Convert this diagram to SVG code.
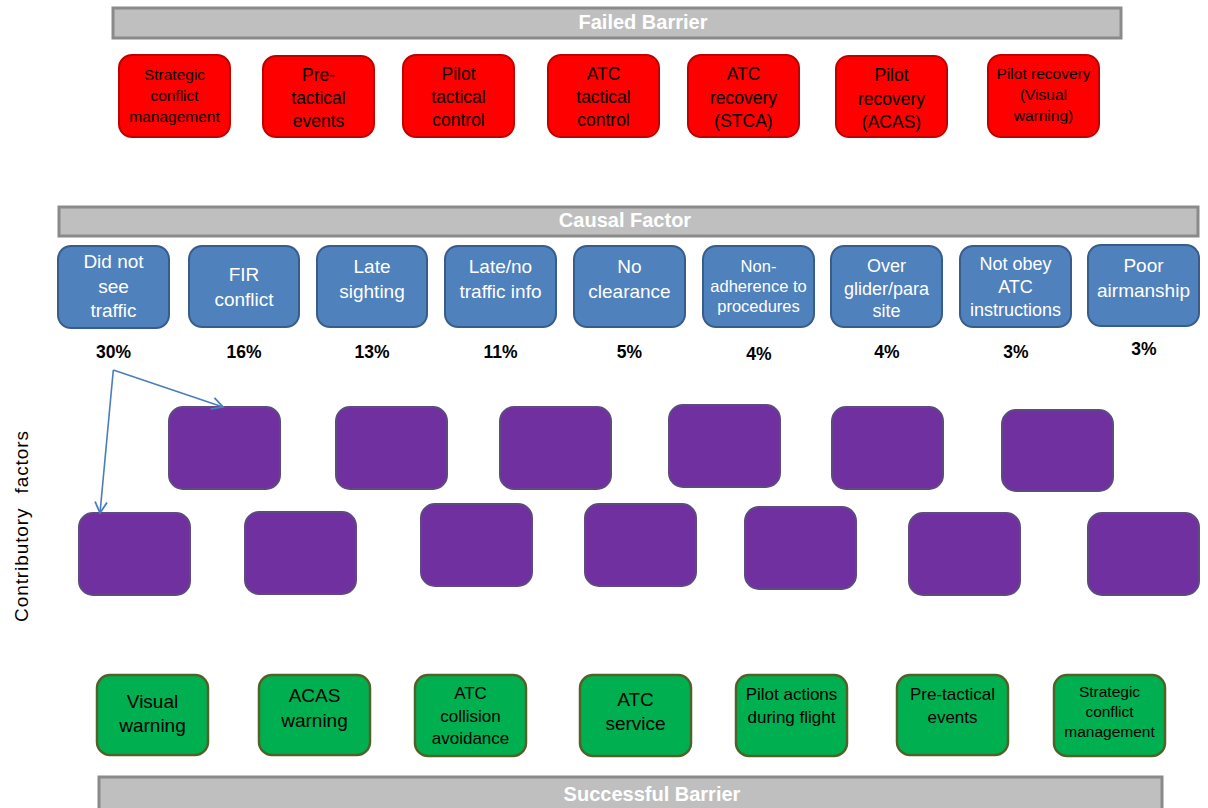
<svg xmlns="http://www.w3.org/2000/svg" width="1208" height="808" viewBox="0 0 1208 808">
<style>
text{font-family:"Liberation Sans",Arial,sans-serif;text-anchor:middle}
.bar{fill:#bfbfbf;stroke:#8a8a8a;stroke-width:3}
.bt{fill:#fff;font-weight:bold;font-size:20px}
.red{fill:#ff0000;stroke:#c00000;stroke-width:2}
.blue{fill:#4f81bd;stroke:#385d8a;stroke-width:2}
.pur{fill:#7030a0;stroke:#5e4a80;stroke-width:2}
.grn{fill:#00b050;stroke:#4f6228;stroke-width:2.5}
.rt{fill:#000;font-size:17.5px}
.wt{fill:#fff;font-size:19px}
.gt{fill:#000;font-size:19px}
.pc{fill:#000;font-size:17.5px;font-weight:bold}
.con{fill:none;stroke:#4a7ebb;stroke-width:1.6}
</style>
<defs>
<marker id="ah" markerWidth="14" markerHeight="14" refX="12" refY="7" orient="auto" markerUnits="userSpaceOnUse">
<path d="M1,1 L12,7 L1,13" fill="none" stroke="#4a7ebb" stroke-width="1.8"/>
</marker>
</defs>
<rect width="1208" height="808" fill="#fff"/>

<g id="bar-failed"><rect class="bar" x="113" y="8" width="1008" height="30"/><text class="bt" x="643" y="29">Failed Barrier</text></g>
<g id="bar-causal"><rect class="bar" x="59" y="207" width="1139" height="29"/><text class="bt" x="625" y="227">Causal Factor</text></g>
<g id="bar-success"><rect class="bar" x="99" y="777" width="1063" height="40"/><text class="bt" x="652" y="801">Successful Barrier</text></g>

<g id="label-contributory"><text transform="translate(28,526) rotate(-90)" style="font-size:19px;word-spacing:8px;letter-spacing:0.9px" fill="#000">Contributory factors</text></g>

<!-- Failed barrier nodes -->
<g id="f1"><rect class="red" x="119" y="55" width="111" height="82" rx="13"/><text class="rt" style="font-size:15.5px"><tspan x="174.5" y="80">Strategic</tspan><tspan x="174.5" y="101">conflict</tspan><tspan x="174.5" y="122">management</tspan></text></g>
<g id="f2"><rect class="red" x="263" y="56" width="111" height="81" rx="13"/><text class="rt"><tspan x="318.5" y="81">Pre-</tspan><tspan x="318.5" y="104">tactical</tspan><tspan x="318.5" y="127">events</tspan></text></g>
<g id="f3"><rect class="red" x="403" y="55" width="111" height="82" rx="13"/><text class="rt"><tspan x="458.5" y="80">Pilot</tspan><tspan x="458.5" y="103">tactical</tspan><tspan x="458.5" y="126">control</tspan></text></g>
<g id="f4"><rect class="red" x="548" y="55" width="111" height="82" rx="13"/><text class="rt"><tspan x="603.5" y="80">ATC</tspan><tspan x="603.5" y="103">tactical</tspan><tspan x="603.5" y="126">control</tspan></text></g>
<g id="f5"><rect class="red" x="688" y="55" width="111" height="82" rx="13"/><text class="rt"><tspan x="743.5" y="80">ATC</tspan><tspan x="743.5" y="104">recovery</tspan><tspan x="743.5" y="127">(STCA)</tspan></text></g>
<g id="f6"><rect class="red" x="836" y="56" width="111" height="81" rx="13"/><text class="rt"><tspan x="891.5" y="81">Pilot</tspan><tspan x="891.5" y="105">recovery</tspan><tspan x="891.5" y="128">(ACAS)</tspan></text></g>
<g id="f7"><rect class="red" x="988" y="55" width="111" height="82" rx="13"/><text class="rt" style="font-size:15.5px"><tspan x="1043.5" y="79">Pilot recovery</tspan><tspan x="1043.5" y="100">(Visual</tspan><tspan x="1043.5" y="121">warning)</tspan></text></g>

<!-- Causal factor nodes -->
<g id="c1"><rect class="blue" x="58" y="246" width="111" height="82" rx="13"/><text class="wt"><tspan x="113.5" y="268">Did not</tspan><tspan x="113.5" y="293">see</tspan><tspan x="113.5" y="317">traffic</tspan></text></g>
<g id="c2"><rect class="blue" x="189" y="246" width="110" height="81" rx="13"/><text class="wt"><tspan x="244" y="281">FIR</tspan><tspan x="244" y="306">conflict</tspan></text></g>
<g id="c3"><rect class="blue" x="317" y="246" width="110" height="81" rx="13"/><text class="wt"><tspan x="372" y="273">Late</tspan><tspan x="372" y="298">sighting</tspan></text></g>
<g id="c4"><rect class="blue" x="445" y="246" width="111" height="81" rx="13"/><text class="wt"><tspan x="500.5" y="273">Late/no</tspan><tspan x="500.5" y="298">traffic info</tspan></text></g>
<g id="c5"><rect class="blue" x="574" y="246" width="111" height="81" rx="13"/><text class="wt"><tspan x="629.5" y="273">No</tspan><tspan x="629.5" y="298">clearance</tspan></text></g>
<g id="c6"><rect class="blue" x="703" y="246" width="111" height="81" rx="13"/><text class="wt" style="font-size:16.5px"><tspan x="758.5" y="272">Non-</tspan><tspan x="758.5" y="292">adherence to</tspan><tspan x="758.5" y="312">procedures</tspan></text></g>
<g id="c7"><rect class="blue" x="831" y="246" width="111" height="81" rx="13"/><text class="wt" style="font-size:18px"><tspan x="886.5" y="272">Over</tspan><tspan x="886.5" y="295">glider/para</tspan><tspan x="886.5" y="317">site</tspan></text></g>
<g id="c8"><rect class="blue" x="960" y="246" width="111" height="81" rx="13"/><text class="wt" style="font-size:18px"><tspan x="1015.5" y="270">Not obey</tspan><tspan x="1015.5" y="293">ATC</tspan><tspan x="1015.5" y="316">instructions</tspan></text></g>
<g id="c9"><rect class="blue" x="1088" y="245" width="111" height="81" rx="13"/><text class="wt"><tspan x="1143.5" y="272">Poor</tspan><tspan x="1143.5" y="297">airmanship</tspan></text></g>

<g id="percentages">
<text class="pc" x="113.5" y="358">30%</text>
<text class="pc" x="244" y="358">16%</text>
<text class="pc" x="372" y="358">13%</text>
<text class="pc" x="500.5" y="358">11%</text>
<text class="pc" x="629.5" y="358">5%</text>
<text class="pc" x="759" y="360">4%</text>
<text class="pc" x="887" y="358">4%</text>
<text class="pc" x="1016" y="358">3%</text>
<text class="pc" x="1144" y="355">3%</text>
</g>

<!-- Contributory factor nodes -->
<g id="p1"><rect class="pur" x="169" y="407" width="111" height="82" rx="14"/></g>
<g id="p2"><rect class="pur" x="336" y="407" width="111" height="82" rx="14"/></g>
<g id="p3"><rect class="pur" x="500" y="407" width="111" height="82" rx="14"/></g>
<g id="p4"><rect class="pur" x="669" y="405" width="111" height="82" rx="14"/></g>
<g id="p5"><rect class="pur" x="832" y="407" width="111" height="82" rx="14"/></g>
<g id="p6"><rect class="pur" x="1002" y="410" width="111" height="81" rx="14"/></g>
<g id="p7"><rect class="pur" x="79" y="513" width="111" height="82" rx="14"/></g>
<g id="p8"><rect class="pur" x="245" y="512" width="111" height="82" rx="14"/></g>
<g id="p9"><rect class="pur" x="421" y="504" width="111" height="82" rx="14"/></g>
<g id="p10"><rect class="pur" x="585" y="504" width="111" height="82" rx="14"/></g>
<g id="p11"><rect class="pur" x="745" y="507" width="111" height="82" rx="14"/></g>
<g id="p12"><rect class="pur" x="909" y="513" width="111" height="82" rx="14"/></g>
<g id="p13"><rect class="pur" x="1088" y="513" width="111" height="82" rx="14"/></g>

<!-- Successful barrier nodes -->
<g id="s1"><rect class="grn" x="97" y="675" width="111" height="80" rx="13"/><text class="gt"><tspan x="152.5" y="708">Visual</tspan><tspan x="152.5" y="732">warning</tspan></text></g>
<g id="s2"><rect class="grn" x="259" y="675" width="111" height="80" rx="13"/><text class="gt"><tspan x="314.5" y="702">ACAS</tspan><tspan x="314.5" y="727">warning</tspan></text></g>
<g id="s3"><rect class="grn" x="415" y="675" width="111" height="81" rx="13"/><text class="gt" style="font-size:17px"><tspan x="470.5" y="699">ATC</tspan><tspan x="470.5" y="722">collision</tspan><tspan x="470.5" y="744">avoidance</tspan></text></g>
<g id="s4"><rect class="grn" x="580" y="675" width="111" height="81" rx="13"/><text class="gt"><tspan x="635.5" y="706">ATC</tspan><tspan x="635.5" y="730">service</tspan></text></g>
<g id="s5"><rect class="grn" x="736" y="675" width="111" height="81" rx="13"/><text class="gt" style="font-size:17px"><tspan x="791.5" y="700">Pilot actions</tspan><tspan x="791.5" y="723">during flight</tspan></text></g>
<g id="s6"><rect class="grn" x="897" y="675" width="111" height="80" rx="13"/><text class="gt" style="font-size:17px"><tspan x="952.5" y="700">Pre-tactical</tspan><tspan x="952.5" y="723">events</tspan></text></g>
<g id="s7"><rect class="grn" x="1054" y="675" width="111" height="81" rx="13"/><text class="gt" style="font-size:15.5px"><tspan x="1109.5" y="697">Strategic</tspan><tspan x="1109.5" y="717">conflict</tspan><tspan x="1109.5" y="737">management</tspan></text></g>

<g id="connectors">
<line class="con" x1="113.3" y1="370" x2="223" y2="407" marker-end="url(#ah)"/>
<line class="con" x1="113.3" y1="370" x2="100" y2="513" marker-end="url(#ah)"/>
</g>
</svg>
